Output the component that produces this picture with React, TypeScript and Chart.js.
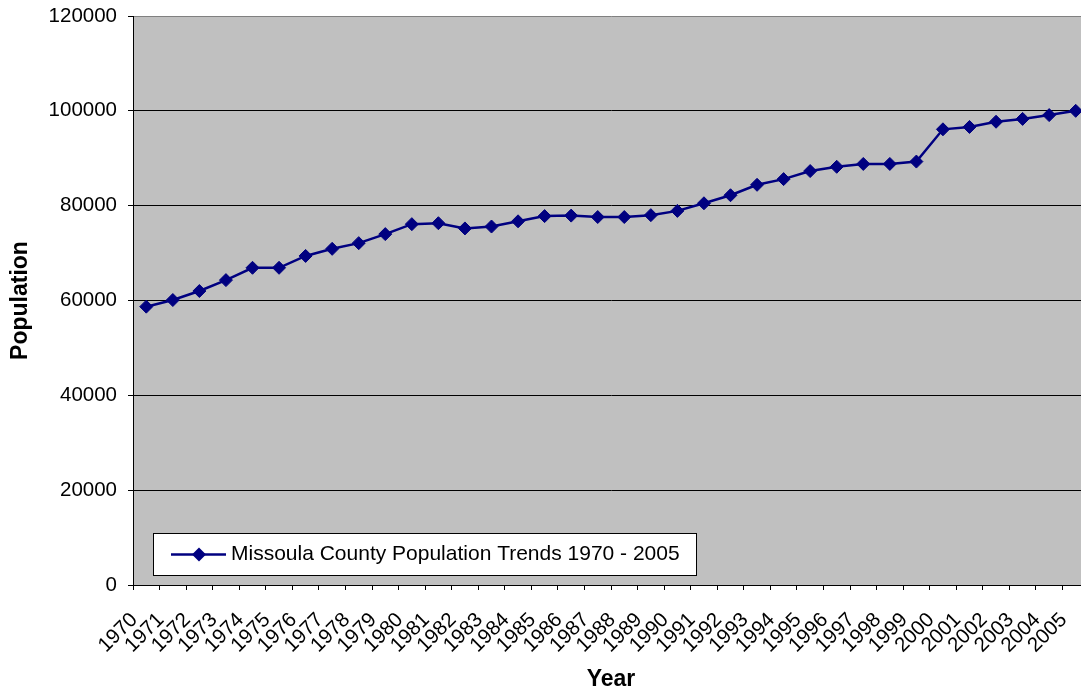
import { useEffect, useRef } from "react";
import { Chart, registerables } from "chart.js";

Chart.register(...registerables);

// Missoula County, Montana — yearly population estimates
const years: string[] = [
  "1970", "1971", "1972", "1973", "1974", "1975", "1976", "1977", "1978", "1979",
  "1980", "1981", "1982", "1983", "1984", "1985", "1986", "1987", "1988", "1989",
  "1990", "1991", "1992", "1993", "1994", "1995", "1996", "1997", "1998", "1999",
  "2000", "2001", "2002", "2003", "2004", "2005",
];

const population: number[] = [
  58700, 60100, 62000, 64300, 66900, 66900, 69400, 70900, 72100, 74000,
  76100, 76300, 75200, 75600, 76700, 77800, 77900, 77600, 77600, 78000,
  78900, 80500, 82200, 84400, 85600, 87300, 88200, 88800, 88800, 89300,
  96100, 96600, 97700, 98300, 99100, 100000,
];

const seriesLabel = "Missoula County Population Trends 1970 - 2005";
const yAxisMin = 0;
const yAxisMax = 120000;
const yAxisStep = 20000;

const FONT = "'Liberation Sans', Arial, Helvetica, sans-serif";
const NAVY = "#000080";
const PLOT_BG = "#C0C0C0";

// Grey plot area behind the series
const plotBackground = {
  id: "plotBackground",
  beforeDraw(chart: any) {
    const { ctx, chartArea } = chart;
    ctx.save();
    ctx.fillStyle = PLOT_BG;
    ctx.fillRect(chartArea.left, chartArea.top, chartArea.right - chartArea.left, chartArea.bottom - chartArea.top);
    ctx.restore();
  },
};

// Boxed legend sitting in the lower-left corner of the plot area
const insetLegend = {
  id: "insetLegend",
  afterDatasetsDraw(chart: any) {
    const { ctx, chartArea } = chart;
    const ds = chart.data.datasets[0];
    const x = Math.round(chartArea.left + 20);
    const y = Math.round(chartArea.bottom - 52);
    const h = 42;
    ctx.save();
    ctx.font = `21px ${FONT}`;
    const textX = x + 78;
    const w = Math.round(textX + ctx.measureText(ds.label).width + 16 - x);
    ctx.fillStyle = "#FFFFFF";
    ctx.fillRect(x, y, w, h);
    ctx.strokeStyle = "#000000";
    ctx.lineWidth = 1;
    ctx.strokeRect(x + 0.5, y + 0.5, w, h);
    const cy = y + h / 2 + 0.5;
    ctx.strokeStyle = ds.borderColor;
    ctx.lineWidth = ds.borderWidth;
    ctx.beginPath();
    ctx.moveTo(x + 18, cy);
    ctx.lineTo(x + 73, cy);
    ctx.stroke();
    const cx = x + 46;
    const r = 7;
    ctx.fillStyle = ds.pointBackgroundColor;
    ctx.beginPath();
    ctx.moveTo(cx - r, cy);
    ctx.lineTo(cx, cy - r);
    ctx.lineTo(cx + r, cy);
    ctx.lineTo(cx, cy + r);
    ctx.closePath();
    ctx.fill();
    ctx.fillStyle = "#000000";
    ctx.textAlign = "left";
    ctx.textBaseline = "middle";
    ctx.fillText(ds.label, textX, cy);
    ctx.restore();
  },
};

export default function App() {
  const canvasRef = useRef<HTMLCanvasElement | null>(null);

  useEffect(() => {
    const canvas = canvasRef.current;
    if (!canvas) return;
    const chart = new Chart(canvas, {
      type: "line",
      data: {
        labels: years,
        datasets: [
          {
            label: seriesLabel,
            data: population,
            borderColor: NAVY,
            backgroundColor: NAVY,
            borderWidth: 2.5,
            pointStyle: "rectRot",
            pointRadius: 6.5,
            pointBorderWidth: 1,
            pointBackgroundColor: NAVY,
            pointBorderColor: NAVY,
            tension: 0,
          },
        ],
      },
      options: {
        animation: false,
        responsive: false,
        devicePixelRatio: 1,
        layout: { padding: { top: 16, right: 11, bottom: 0, left: 0 } },
        plugins: {
          legend: { display: false },
          tooltip: { enabled: false },
        },
        scales: {
          x: {
            type: "category",
            offset: true,
            afterFit: (scale: any) => {
              scale.height = 109;
              scale.paddingLeft = 0;
              scale.paddingRight = 0;
            },
            border: { display: true, color: "#000000", width: 1 },
            grid: {
              display: true,
              offset: true,
              drawOnChartArea: false,
              drawTicks: true,
              tickLength: 5,
              tickColor: "#000000",
            },
            ticks: {
              autoSkip: false,
              minRotation: 45,
              maxRotation: 45,
              padding: 18,
              labelOffset: -12,
              color: "#000000",
              font: { family: FONT, size: 20.5 },
            },
            title: {
              display: true,
              text: "Year",
              color: "#000000",
              font: { family: FONT, size: 23, weight: "bold" },
              padding: { top: 0, bottom: 1 },
            },
          },
          y: {
            min: yAxisMin,
            max: yAxisMax,
            afterFit: (scale: any) => {
              scale.width = 133;
              scale.paddingTop = 0;
              scale.paddingBottom = 0;
            },
            border: { display: true, color: "#000000", width: 1 },
            grid: {
              color: (c: any) => (c.tick && c.tick.value === yAxisMax ? "#808080" : "#000000"),
              lineWidth: 1,
              drawTicks: true,
              tickLength: 5,
              tickColor: "#000000",
            },
            ticks: {
              stepSize: yAxisStep,
              padding: 11,
              color: "#000000",
              font: { family: FONT, size: 20.5 },
              callback: (v: any) => String(v),
            },
            title: {
              display: true,
              text: "Population",
              color: "#000000",
              font: { family: FONT, size: 23, weight: "bold" },
              padding: { top: 7, bottom: 0 },
            },
          },
        },
      },
      plugins: [plotBackground, insetLegend],
    });
    return () => chart.destroy();
  }, []);

  return (
    <div
      style={{
        position: "absolute",
        left: 0,
        top: 0,
        width: 1081,
        height: 694,
        overflow: "hidden",
        background: "#FFFFFF",
      }}
    >
      <canvas ref={canvasRef} width={1100} height={694} style={{ display: "block", width: 1100, height: 694 }} />
    </div>
  );
}
